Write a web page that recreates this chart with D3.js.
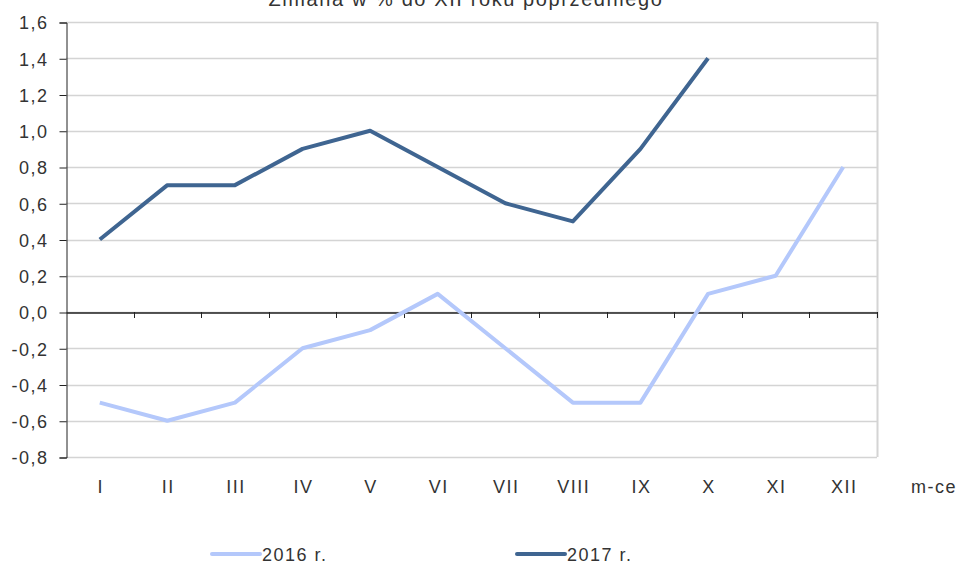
<!DOCTYPE html>
<html>
<head>
<meta charset="utf-8">
<script src="https://cdn.jsdelivr.net/npm/d3@7"></script>
<style>
  body { margin: 0; background: #fff; }
  svg text { font-family: "Liberation Sans", Arial, sans-serif; fill: #333; letter-spacing: 1.5px; }
</style>
</head>
<body>
<svg id="chart" width="957" height="565"></svg>
<script>
const months = ['I', 'II', 'III', 'IV', 'V', 'VI', 'VII', 'VIII', 'IX', 'X', 'XI', 'XII'];
const values2016 = [-0.5, -0.6, -0.5, -0.2, -0.1, 0.1, -0.2, -0.5, -0.5, 0.1, 0.2, 0.8];
const values2017 = [0.4, 0.7, 0.7, 0.9, 1.0, 0.8, 0.6, 0.5, 0.9, 1.4];
const yTicks = [-0.8, -0.6, -0.4, -0.2, 0, 0.2, 0.4, 0.6, 0.8, 1.0, 1.2, 1.4, 1.6];

const plot = { left: 66, right: 877, top: 22, bottom: 457 };
const svg = d3.select('#chart');
const fmt = d => d3.format('.1f')(d).replace('.', ',').replace('−', '-');

const x = d3.scaleBand()
    .domain(months)
    .range([plot.left, plot.right]);

const y = d3.scaleLinear()
    .domain([-0.8, 1.6])
    .range([plot.bottom, plot.top]);

// title (cut off at the top like the original)
svg.append('text')
    .attr('x', 466)
    .attr('y', 6)
    .attr('text-anchor', 'middle')
    .style('font-size', '20px')
    .style('letter-spacing', '1.6px')
    .attr('fill', '#111')
    .text('Zmiana w % do XII roku poprzedniego');

// gridlines
svg.append('g')
    .selectAll('line')
    .data(yTicks)
    .enter()
    .append('line')
    .attr('x1', plot.left)
    .attr('x2', plot.right)
    .attr('y1', d => Math.round(y(d)) + 0.5)
    .attr('y2', d => Math.round(y(d)) + 0.5)
    .attr('stroke', '#d4d4d4')
    .attr('stroke-width', 1.5);

// right border
svg.append('line')
    .attr('x1', plot.right + 0.5)
    .attr('x2', plot.right + 0.5)
    .attr('y1', plot.top)
    .attr('y2', plot.bottom)
    .attr('stroke', '#d4d4d4')
    .attr('stroke-width', 2);

// y axis
const yAxis = svg.append('g')
    .attr('transform', 'translate(' + (plot.left + 0.5) + ',0.5)')
    .call(d3.axisLeft(y).tickValues(yTicks).tickFormat(fmt).tickSize(7).tickPadding(11));
yAxis.select('.domain').attr('stroke', '#222');
yAxis.selectAll('.tick line').attr('stroke', '#222');
yAxis.selectAll('text')
    .style('font-size', '18px')
    .style('font-family', '"Liberation Sans", Arial, sans-serif')
    .attr('fill', '#333')
    .attr('dy', '0.36em');

// x axis on zero line
const xAxis = svg.append('g')
    .attr('transform', 'translate(0,' + (Math.round(y(0)) + 0.5) + ')')
    .call(d3.axisBottom(x).tickSize(0).tickFormat(''));
xAxis.select('.domain').attr('stroke', '#222').attr('stroke-width', 1.5);

// category separator ticks
svg.append('g')
    .selectAll('line')
    .data(months)
    .enter()
    .append('line')
    .attr('x1', d => Math.round(x(d) + x.step()) + 0.5)
    .attr('x2', d => Math.round(x(d) + x.step()) + 0.5)
    .attr('y1', y(0))
    .attr('y2', y(0) + 6)
    .attr('stroke', '#222');

// month labels below plot
svg.append('g')
    .selectAll('text')
    .data(months)
    .enter()
    .append('text')
    .attr('x', d => x(d) + x.bandwidth() / 2 + 1)
    .attr('y', 493)
    .attr('text-anchor', 'middle')
    .style('font-size', '18px')
    .text(d => d);

svg.append('text')
    .attr('x', 934)
    .attr('y', 493)
    .attr('text-anchor', 'middle')
    .style('font-size', '18px')
    .text('m-ce');

const line = d3.line()
    .x((d, i) => x(months[i]) + x.bandwidth() / 2)
    .y(d => y(d));

const series = [
    { name: '2016 r.', values: values2016, color: '#b4c8fb', lx: 212 },
    { name: '2017 r.', values: values2017, color: '#3f6591', lx: 517 }
];

series.forEach(s => {
    svg.append('path')
        .attr('d', line(s.values))
        .attr('stroke', s.color)
        .attr('stroke-width', 4)
        .attr('stroke-linejoin', 'round')
        .attr('fill', 'none');

    svg.append('line')
        .attr('x1', s.lx)
        .attr('x2', s.lx + 48)
        .attr('y1', 554)
        .attr('y2', 554)
        .attr('stroke', s.color)
        .attr('stroke-width', 4)
        .attr('stroke-linecap', 'round');

    svg.append('text')
        .attr('x', s.lx + 50)
        .attr('y', 561)
        .style('font-size', '18px')
        .attr('fill', '#222')
        .text(s.name);
});
</script>
</body>
</html>
